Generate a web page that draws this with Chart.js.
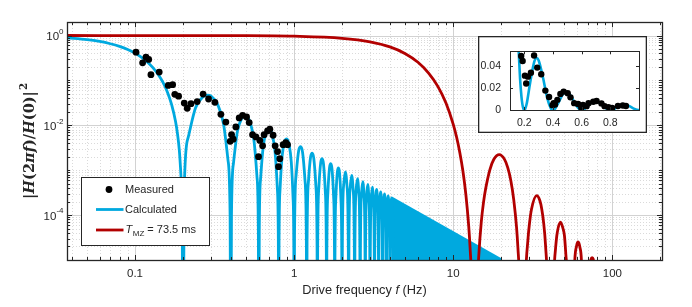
<!DOCTYPE html>
<html>
<head>
<meta charset="utf-8">
<script src="https://cdn.jsdelivr.net/npm/chart.js@4.4.0/dist/chart.umd.min.js"></script>
<style>
  html, body { margin: 0; padding: 0; background: #ffffff; }
  #wrap { position: relative; width: 692px; height: 307px; }
  #main { position: absolute; left: 0; top: 0; }
  #inset { position: absolute; left: 478px; top: 36px; }
</style>
</head>
<body>
<div id="wrap">
  <canvas id="main" width="692" height="307"></canvas>
  <canvas id="inset" width="169" height="97"></canvas>
</div>
<script>
// ---------------- data ----------------
// Measured points: drive frequency (Hz) and |H(2πf)/H(0)|^2
const measF = [0.1015, 0.1117, 0.1173, 0.122, 0.126, 0.142, 0.1618, 0.1725, 0.178, 0.188,
  0.204, 0.213, 0.225, 0.246, 0.268, 0.290, 0.318, 0.3467, 0.3725, 0.3965,
  0.4046, 0.4141, 0.4305, 0.4517, 0.4745, 0.5026, 0.522, 0.548, 0.575, 0.5976,
  0.609, 0.634, 0.648, 0.681, 0.704, 0.738, 0.760, 0.787, 0.798, 0.813,
  0.853, 0.887, 0.909];
const measV = [0.426, 0.247, 0.330, 0.293, 0.134, 0.153, 0.0774, 0.0802, 0.049, 0.0445,
  0.0312, 0.0240, 0.0303, 0.0338, 0.0495, 0.0385, 0.0325, 0.0176, 0.0118, 0.0044,
  0.0062, 0.0049, 0.0092, 0.0146, 0.0167, 0.0153, 0.0115, 0.0062, 0.0055, 0.0020,
  0.0046, 0.0035, 0.0062, 0.0075, 0.0082, 0.0060, 0.0035, 0.0026, 0.0012, 0.0018,
  0.0037, 0.0041, 0.0037];

// Calculated curve (resolved lobes up to 4.2 Hz); 1e-8 marks the nulls (below the axis)
const blueF = [
  0.0374, 0.05, 0.06, 0.07, 0.08, 0.09, 0.1, 0.11, 0.12, 0.13, 0.14, 0.15, 0.16, 0.17, 0.18, 0.185, 0.19, 0.195, 0.198, 0.2,
  0.204, 0.216, 0.24, 0.27, 0.286, 0.3, 0.33, 0.36, 0.384, 0.396, 0.4,
  0.404, 0.416, 0.44, 0.47, 0.49, 0.5, 0.53, 0.56, 0.584, 0.596, 0.6,
  0.604, 0.616, 0.64, 0.67, 0.7, 0.73, 0.76, 0.784, 0.796, 0.8,
  0.804, 0.816, 0.84, 0.87, 0.9, 0.93, 0.96, 0.984, 0.996, 1.0,
  1.006, 1.03, 1.07, 1.1, 1.13, 1.17, 1.194, 1.2,
  1.206, 1.23, 1.27, 1.3, 1.33, 1.37, 1.394, 1.4,
  1.406, 1.43, 1.47, 1.5, 1.53, 1.57, 1.594, 1.6,
  1.606, 1.63, 1.67, 1.7, 1.73, 1.77, 1.794, 1.8,
  1.806, 1.83, 1.87, 1.9, 1.93, 1.97, 1.994, 2.0,
  2.01, 2.05, 2.1, 2.15, 2.19, 2.2,
  2.21, 2.25, 2.3, 2.35, 2.39, 2.4,
  2.41, 2.45, 2.5, 2.55, 2.59, 2.6,
  2.61, 2.65, 2.7, 2.75, 2.79, 2.8,
  2.81, 2.85, 2.9, 2.95, 2.99, 3.0,
  3.01, 3.05, 3.1, 3.15, 3.19, 3.2,
  3.21, 3.25, 3.3, 3.35, 3.39, 3.4,
  3.41, 3.45, 3.5, 3.55, 3.59, 3.6,
  3.61, 3.65, 3.7, 3.75, 3.79, 3.8,
  3.81, 3.85, 3.9, 3.95, 3.99, 4.0,
  4.01, 4.05, 4.1, 4.15, 4.19, 4.2];
const blueV = [
  0.890, 0.811, 0.737, 0.656, 0.573, 0.488, 0.405, 0.327, 0.2545, 0.1904, 0.135, 0.0901, 0.0547, 0.0289, 0.01195, 0.00645, 0.00275, 0.00066, 0.000102, 1e-8,
  3.84e-4, 5.37e-3, 0.02431, 0.04414, 0.04719, 0.04503, 0.02955, 0.01080, 1.699e-3, 1.019e-4, 1e-8,
  9.79e-5, 1.447e-3, 7.233e-3, 0.014566, 0.01647, 0.016211, 0.011455, 4.465e-3, 7.344e-4, 4.50e-5, 1e-8,
  4.38e-5, 6.60e-4, 3.419e-3, 7.168e-3, 8.271e-3, 6.038e-3, 2.424e-3, 4.075e-4, 2.52e-5, 1e-8,
  2.47e-5, 3.762e-4, 1.984e-3, 4.251e-3, 5.004e-3, 3.720e-3, 1.519e-3, 2.587e-4, 1.61e-5, 1e-8,
  3.547e-5, 7.873e-4, 2.810e-3, 3.349e-3, 2.520e-3, 6.102e-4, 2.518e-5, 1e-8,
  2.468e-5, 5.521e-4, 1.995e-3, 2.398e-3, 1.819e-3, 4.450e-4, 1.847e-5, 1e-8,
  1.816e-5, 4.085e-4, 1.489e-3, 1.801e-3, 1.3745e-3, 3.389e-4, 1.413e-5, 1e-8,
  1.392e-5, 3.144e-4, 1.1537e-3, 1.4024e-3, 1.0751e-3, 2.666e-4, 1.115e-5, 1e-8,
  1.100e-5, 2.494e-4, 9.201e-4, 1.1227e-3, 8.638e-4, 2.152e-4, 9.03e-6, 1e-8,
  2.455e-5, 4.822e-4, 9.190e-4, 4.384e-4, 2.068e-5, 1e-8,
  2.031e-5, 4.003e-4, 7.661e-4, 3.669e-4, 1.736e-5, 1e-8,
  1.707e-5, 3.376e-4, 6.484e-4, 3.116e-4, 1.478e-5, 1e-8,
  1.456e-5, 2.886e-4, 5.559e-4, 2.680e-4, 1.274e-5, 1e-8,
  1.256e-5, 2.495e-4, 4.819e-4, 2.329e-4, 1.109e-5, 1e-8,
  1.095e-5, 2.178e-4, 4.217e-4, 2.042e-4, 9.75e-6, 1e-8,
  9.62e-6, 1.918e-4, 3.722e-4, 1.806e-4, 8.63e-6, 1e-8,
  8.53e-6, 1.703e-4, 3.308e-4, 1.608e-4, 7.70e-6, 1e-8,
  7.61e-6, 1.521e-4, 2.960e-4, 1.441e-4, 6.90e-6, 1e-8,
  6.83e-6, 1.367e-4, 2.665e-4, 1.299e-4, 6.23e-6, 1e-8,
  6.17e-6, 1.235e-4, 2.411e-4, 1.177e-4, 5.65e-6, 1e-8];
// Calculated curve, unresolved dense lobes (drawn as a solid band up to its envelope)
const blueTailF = [4.1, 20.0];
const blueTailV = [2.411e-4, 1.013e-5];

// T_MZ = 73.5 ms curve
const redF = [0.0374, 0.5, 1, 2, 3, 4, 5, 6, 7, 8, 9, 10, 10.5, 11, 11.5, 12, 12.5, 12.8, 13, 13.605,
  14.2, 14.5, 15, 15.5, 16, 17, 18, 19.46, 21, 22, 23, 24, 25, 25.5, 26, 27.21,
  28.5, 29.5, 30, 31, 33.46, 35, 36, 37, 38, 39.5, 40.82,
  43, 44, 45, 47.22, 49, 50, 51, 52, 54.42,
  58, 59.5, 60.92, 62.5, 64, 68.03,
  72, 74.58, 77, 81.63, 205];
const redV = [1.0, 0.9911, 0.965, 0.867, 0.722, 0.5565, 0.3936, 0.2533, 0.1459, 0.0736, 0.0313, 0.0105, 5.41e-3, 2.46e-3, 9.59e-4, 2.88e-4, 5.8e-5, 1.53e-5, 4.6e-6, 1e-9,
  3.05e-6, 1.4e-5, 6.95e-5, 1.944e-4, 3.94e-4, 1.034e-3, 1.75e-3, 2.227e-3, 1.74e-3, 1.141e-3, 5.89e-4, 2.19e-4, 5.26e-5, 1.82e-5, 4.48e-6, 1e-9,
  3.98e-6, 2.98e-5, 5.64e-5, 1.33e-4, 2.716e-4, 2.108e-4, 1.356e-4, 6.65e-5, 2.18e-5, 1.14e-6, 1e-9,
  5.39e-6, 1.90e-5, 4.0e-5, 6.96e-5, 4.96e-5, 3.42e-5, 1.325e-5, 4.25e-6, 1e-9,
  9.0e-6, 2.03e-5, 2.53e-5, 1.93e-5, 8.63e-6, 1e-9,
  5.2e-6, 1.13e-5, 5.92e-6, 1e-9, 1e-9];

// Axes / tick labels
const xTickValues = [0.1, 1, 10, 100];
const xTickLabels = ['0.1', '1', '10', '100'];
const yLabelExponents = [0, -2, -4];
const insetXTicks = [0.2, 0.4, 0.6, 0.8];
const insetXLabels = ['0.2', '0.4', '0.6', '0.8'];
const insetYTicks = [0, 0.02, 0.04];
const insetYLabels = ['0', '0.02', '0.04'];
const legendLabels = ['Measured', 'Calculated'];
const xTitle = ['Drive frequency ', 'f', ' (Hz)'];

// ---------------- styling ----------------
const BLUE = '#00A9DF';
const RED = '#B20000';
const AX = '#262626';
const FONT = "'Liberation Sans', Arial, Helvetica, sans-serif";
Chart.defaults.font.family = FONT;
Chart.defaults.color = AX;

const toXY = (xs, ys) => xs.map((x, i) => ({ x: x, y: ys[i] }));

function line(ctx, x1, y1, x2, y2) { ctx.beginPath(); ctx.moveTo(x1, y1); ctx.lineTo(x2, y2); ctx.stroke(); }
const snap = v => Math.round(v) + 0.5;

const mainDeco = {
  id: 'mainDeco',
  beforeDatasetsDraw(chart) {
    const { ctx, chartArea: a, scales: { x, y } } = chart;
    ctx.save();
    ctx.lineWidth = 1;
    for (let n = -2; n <= 2; n++) {
      for (let k = 1; k <= 9; k++) {
        const v = k * Math.pow(10, n);
        if (v <= x.min || v >= x.max) continue;
        const px = snap(x.getPixelForValue(v));
        if (k === 1) { ctx.setLineDash([]); ctx.strokeStyle = '#d2d2d2'; }
        else { ctx.setLineDash([1, 2]); ctx.strokeStyle = '#dadada'; }
        line(ctx, px, a.top, px, a.bottom);
      }
    }
    for (let n = -5; n <= 0; n++) {
      for (let k = 1; k <= 9; k++) {
        const v = k * Math.pow(10, n);
        if (v <= y.min * 1.0001 || v >= y.max) continue;
        const py = snap(y.getPixelForValue(v));
        if (k === 1 && n % 2 === 0) { ctx.setLineDash([]); ctx.strokeStyle = '#d2d2d2'; }
        else { ctx.setLineDash([1, 2]); ctx.strokeStyle = '#dadada'; }
        line(ctx, a.left, py, a.right, py);
      }
    }
    ctx.restore();
  },
  afterDatasetsDraw(chart) {
    const { ctx, chartArea: a, scales: { x, y } } = chart;
    ctx.save();
    ctx.setLineDash([]);
    ctx.strokeStyle = AX;
    ctx.lineWidth = 1;
    for (let n = -2; n <= 2; n++) {
      for (let k = 1; k <= 9; k++) {
        const v = k * Math.pow(10, n);
        if (v <= x.min || v >= x.max) continue;
        const px = snap(x.getPixelForValue(v));
        const L = k === 1 ? 5 : 3;
        line(ctx, px, a.bottom, px, a.bottom - L);
        line(ctx, px, a.top, px, a.top + L);
      }
    }
    for (let n = -5; n <= 0; n++) {
      for (let k = 1; k <= 9; k++) {
        const v = k * Math.pow(10, n);
        if (v <= y.min * 1.0001 || v >= y.max) continue;
        const py = snap(y.getPixelForValue(v));
        const L = (k === 1 && n % 2 === 0) ? 5 : 3;
        line(ctx, a.left, py, a.left + L, py);
        line(ctx, a.right, py, a.right - L, py);
      }
    }
    ctx.lineWidth = 1.3;
    ctx.strokeRect(Math.round(a.left) + 0.5, Math.round(a.top) + 0.5, Math.round(a.right - a.left), Math.round(a.bottom - a.top));

    // legend
    const lx = 81.5, ly = 177.5, lw = 128, lh = 68;
    ctx.fillStyle = '#ffffff';
    ctx.fillRect(lx, ly, lw, lh);
    ctx.lineWidth = 1;
    ctx.strokeStyle = AX;
    ctx.strokeRect(lx, ly, lw, lh);
    ctx.fillStyle = '#000000';
    ctx.beginPath(); ctx.arc(109, 189.5, 3.4, 0, Math.PI * 2); ctx.fill();
    ctx.lineWidth = 2.8;
    ctx.strokeStyle = BLUE; line(ctx, 96, 209.5, 123.5, 209.5);
    ctx.strokeStyle = RED; line(ctx, 96, 230, 123.5, 230);
    ctx.fillStyle = AX;
    ctx.textBaseline = 'middle';
    ctx.textAlign = 'left';
    ctx.font = '11px ' + FONT;
    ctx.fillText(legendLabels[0], 125, 190);
    ctx.fillText(legendLabels[1], 125, 210);
    ctx.font = 'italic 11px ' + FONT;
    ctx.fillText('T', 125.5, 229.5);
    let tx = 125.5 + ctx.measureText('T').width;
    ctx.font = '8px ' + FONT;
    ctx.fillText('MZ', tx + 0.5, 233.5);
    tx += 0.5 + ctx.measureText('MZ').width;
    ctx.font = '11px ' + FONT;
    ctx.fillText(' = 73.5 ms', tx, 230);

    // y tick labels 10^n
    yLabelExponents.forEach(e => {
      const py = y.getPixelForValue(Math.pow(10, e));
      const sup = e === 0 ? '0' : '-' + Math.abs(e);
      ctx.font = '8px ' + FONT;
      const ws = ctx.measureText(sup).width;
      const right = 63.5;
      ctx.textAlign = 'left';
      ctx.fillText(sup, right - ws, py - 4);
      ctx.font = '11.5px ' + FONT;
      ctx.textAlign = 'right';
      ctx.fillText('10', right - ws, py + 1.5);
    });

    // x title
    ctx.textAlign = 'left';
    ctx.textBaseline = 'middle';
    const fonts = ['12.8px ' + FONT, 'italic 12.8px ' + FONT, '12.8px ' + FONT];
    let total = 0;
    xTitle.forEach((s, i) => { ctx.font = fonts[i]; total += ctx.measureText(s).width; });
    let cx = (a.left + a.right) / 2 - total / 2;
    xTitle.forEach((s, i) => { ctx.font = fonts[i]; ctx.fillText(s, cx, 290); cx += ctx.measureText(s).width; });

    // y title |H(2πf)/H(0)|^2 (rotated)
    const parts = [
      ['|', 'bold'], ['H', 'bold italic'], ['(2', 'bold'], ['π', 'bold italic'], ['f', 'bold italic'],
      [')/', 'bold'], ['H', 'bold italic'], ['(0)|', 'bold'], ['2', 'sup']
    ];
    const serif = "'DejaVu Serif', 'Liberation Serif', serif";
    const target = 116;
    const measureAll = (fs) => {
      let w = 0;
      parts.forEach(([s, st]) => {
        ctx.font = st === 'sup' ? 'bold ' + (fs * 0.7) + 'px ' + serif : st + ' ' + fs + 'px ' + serif;
        w += ctx.measureText(s).width + (st === 'sup' ? 1 : 0);
      });
      return w;
    };
    let fs = 14;
    fs = fs * target / measureAll(fs);
    const tw = measureAll(fs);
    ctx.save();
    ctx.translate(30, (a.top + a.bottom) / 2);
    ctx.rotate(-Math.PI / 2);
    let px = -tw / 2;
    parts.forEach(([s, st]) => {
      if (st === 'sup') {
        ctx.font = 'bold ' + (fs * 0.7) + 'px ' + serif;
        ctx.fillText(s, px + 1, -fs * 0.42);
        px += ctx.measureText(s).width + 1;
      } else {
        ctx.font = st + ' ' + fs + 'px ' + serif;
        ctx.fillText(s, px, 0);
        px += ctx.measureText(s).width;
      }
    });
    ctx.restore();
    ctx.restore();
  }
};

new Chart(document.getElementById('main'), {
  type: 'line',
  data: {
    datasets: [
      { label: 'Measured', data: toXY(measF, measV), showLine: false, pointRadius: 3.4,
        pointBackgroundColor: '#000', pointBorderColor: '#000', pointBorderWidth: 0, order: 0 },
      { label: 'T_MZ = 73.5 ms', data: toXY(redF, redV), borderColor: RED, borderWidth: 2.8,
        pointRadius: 0, cubicInterpolationMode: 'monotone', order: 1, clip: 0 },
      { label: 'Calculated', data: toXY(blueF, blueV), borderColor: BLUE, borderWidth: 2.8,
        pointRadius: 0, cubicInterpolationMode: 'monotone', order: 2, clip: 0 },
      { label: 'Calculated (dense lobes)', data: toXY(blueTailF, blueTailV), borderColor: BLUE,
        backgroundColor: BLUE, borderWidth: 2.8, fill: 'start', pointRadius: 0, order: 3, clip: 0 }
    ]
  },
  options: {
    responsive: false, animation: false, devicePixelRatio: 1,
    layout: { padding: { top: 22, right: 30, left: 0, bottom: 0 } },
    plugins: { legend: { display: false }, tooltip: { enabled: false } },
    scales: {
      x: {
        type: 'logarithmic', min: 0.0374, max: 205,
        afterFit: s => { s.height = 47; },
        afterBuildTicks: s => { s.ticks = xTickValues.map(v => ({ value: v })); },
        grid: { display: false, drawTicks: false }, border: { display: false },
        ticks: { autoSkip: false, maxRotation: 0, padding: 7, color: AX, font: { size: 11.5, family: FONT },
                 callback: (v, i) => xTickLabels[i] }
      },
      y: {
        type: 'logarithmic', min: 1e-5, max: 2,
        afterFit: s => { s.width = 67; },
        grid: { display: false, drawTicks: false }, border: { display: false },
        ticks: { display: false }
      }
    }
  },
  plugins: [mainDeco]
});

// ---------------- inset ----------------
const insetDeco = {
  id: 'insetDeco',
  beforeDraw(chart) {
    const { ctx, width, height } = chart;
    ctx.save();
    ctx.fillStyle = '#ffffff';
    ctx.fillRect(0, 0, width, height);
    ctx.restore();
  },
  afterDatasetsDraw(chart) {
    const { ctx, chartArea: a, scales: { x, y }, width, height } = chart;
    ctx.save();
    ctx.strokeStyle = AX;
    ctx.lineWidth = 1;
    insetXTicks.forEach(v => {
      const px = snap(x.getPixelForValue(v));
      line(ctx, px, a.bottom, px, a.bottom - 3);
      line(ctx, px, a.top, px, a.top + 3);
    });
    insetYTicks.forEach(v => {
      const py = snap(y.getPixelForValue(v));
      line(ctx, a.left, py, a.left + 3, py);
      line(ctx, a.right, py, a.right - 3, py);
    });
    ctx.strokeRect(Math.round(a.left) + 0.5, Math.round(a.top) + 0.5, Math.round(a.right - a.left), Math.round(a.bottom - a.top));
    ctx.lineWidth = 1.3;
    ctx.strokeRect(0.65, 0.65, width - 1.3, height - 1.3);
    ctx.restore();
  }
};

new Chart(document.getElementById('inset'), {
  type: 'line',
  data: {
    datasets: [
      { data: toXY(measF, measV), showLine: false, pointRadius: 3.2,
        pointBackgroundColor: '#000', pointBorderColor: '#000', pointBorderWidth: 0, order: 0 },
      { data: toXY(blueF, blueV).filter(p => p.x >= 0.13 && p.x <= 1.01), borderColor: BLUE, borderWidth: 2.6,
        pointRadius: 0, cubicInterpolationMode: 'monotone', order: 1, clip: 0 }
    ]
  },
  options: {
    responsive: false, animation: false, devicePixelRatio: 1,
    layout: { padding: { top: 7, right: 8, left: 0, bottom: 0 } },
    plugins: { legend: { display: false }, tooltip: { enabled: false } },
    scales: {
      x: {
        type: 'linear', min: 0.1, max: 1.0,
        afterFit: s => { s.height = 23; },
        afterBuildTicks: s => { s.ticks = insetXTicks.map(v => ({ value: v })); },
        grid: { display: false, drawTicks: false }, border: { display: false },
        ticks: { autoSkip: false, maxRotation: 0, padding: 7, color: AX, font: { size: 10.5, family: FONT },
                 callback: (v, i) => insetXLabels[i] }
      },
      y: {
        type: 'linear', min: 0, max: 0.0533,
        afterFit: s => { s.width = 32; },
        afterBuildTicks: s => { s.ticks = insetYTicks.map(v => ({ value: v })); },
        grid: { display: false, drawTicks: false }, border: { display: false },
        ticks: { autoSkip: false, padding: 9, color: AX, font: { size: 10.5, family: FONT },
                 callback: (v, i) => insetYLabels[i] }
      }
    }
  },
  plugins: [insetDeco]
});
</script>
</body>
</html>
